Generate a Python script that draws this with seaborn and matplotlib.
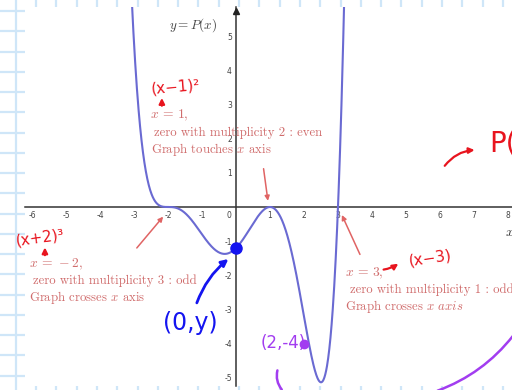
import numpy as np
import pandas as pd
import matplotlib
matplotlib.use("Agg")
import matplotlib.pyplot as plt
import seaborn as sns
from matplotlib.patches import FancyArrowPatch

# P(x) = a (x+2)^3 (x-1)^2 (x-3)
roots = [-2, 1, 3]
multiplicities = [3, 2, 1]
lead_coef = 0.05

x_tick_values = [-6, -5, -4, -3, -2, -1, 1, 2, 3, 4, 5, 6, 7, 8]
y_tick_values = [-5, -4, -3, -2, -1, 1, 2, 3, 4, 5]

marked_point = (2, -4)


def P(x):
    x = np.asarray(x, dtype=float)
    out = np.full_like(x, lead_coef)
    for r, m in zip(roots, multiplicities):
        out = out * (x - r) ** m
    return out


xs = np.linspace(-3.4, 3.4, 800)
curve = pd.DataFrame({"x": xs, "y": P(xs)})
y_intercept = (0.0, float(P(0.0)))

sns.set_theme(style="white")
plt.rcParams["mathtext.fontset"] = "cm"

fig = plt.figure(figsize=(5.12, 3.90), dpi=100)

# notebook paper behind the graph
bg = fig.add_axes([0, 0, 1, 1])
bg.set_xlim(0, 512)
bg.set_ylim(390, 0)
bg.axis("off")
paper = "#cfe6f8"
for k in range(20):
    yy = 11 + 20.25 * k
    bg.plot([0, 26], [yy, yy], color=paper, lw=1.6)
bg.plot([16, 16], [0, 390], color=paper, lw=1.6)
for k in range(24):
    xx = 36 + 20.3 * k
    bg.plot([xx, xx], [0, 7], color=paper, lw=1.6)
    bg.plot([xx, xx], [385, 390], color=paper, lw=1.6)

ax = fig.add_axes([25 / 512, 4 / 390, 487 / 512, 379 / 390])
ax.set_facecolor("white")
ax.set_xlim(-6.206, 8.118)
ax.set_ylim(-5.234, 5.848)

sns.lineplot(data=curve, x="x", y="y", ax=ax, color="#6a6ad2", lw=1.5, zorder=3)

# axes through the origin
for side in ["top", "right"]:
    ax.spines[side].set_visible(False)
ax.spines["left"].set_position(("data", 0))
ax.spines["bottom"].set_position(("data", 0))
for side in ["left", "bottom"]:
    ax.spines[side].set_color("#333333")
    ax.spines[side].set_linewidth(1.1)
ax.set_xticks(x_tick_values)
ax.set_yticks(y_tick_values)
ax.set_xticklabels([str(v) for v in x_tick_values])
ax.set_yticklabels([str(v) for v in y_tick_values])
ax.tick_params(axis="both", direction="inout", length=3, width=0.7, colors="#333333",
               labelsize=5.5, labelcolor="#444444", pad=1.5)
ax.set_xlabel("")
ax.set_ylabel("")
ax.text(-0.15, -0.12, "0", fontsize=5.5, color="#444444", ha="right", va="top")
ax.plot([0], [5.72], marker="^", ms=5, color="#222222", clip_on=False, zorder=4)
ax.text(7.92, -0.72, "$x$", fontsize=10, color="#333333", va="center", ha="left")
ax.text(-1.25, 5.32, "$y = P(x)$", fontsize=9.5, color="#444444", ha="center", va="center")

# printed notes on the zeros
note = "#d06c6c"
serif = dict(family="cmr10", fontsize=9.2, color=note, va="center", ha="left")
head = {**serif, "fontsize": 9.8}
ax.text(-2.53, 2.68, r"$x\,=\,1,$", **head)
ax.text(-2.40, 2.16, "zero with multiplicity 2 : even", **serif)
ax.text(-2.50, 1.67, "Graph touches $x$ axis", **serif)
ax.text(-6.09, -1.67, r"$x\,=\,-2,$", **head)
ax.text(-5.97, -2.16, "zero with multiplicity 3 : odd", **serif)
ax.text(-6.09, -2.66, "Graph crosses $x$ axis", **serif)
ax.text(3.20, -1.93, r"$x\,=\,3,$", **head)
ax.text(3.35, -2.42, "zero with multiplicity 1 : odd", **serif)
ax.text(3.20, -2.90, r"Graph crosses $x\ axis$", **serif)

arrow_kw = dict(arrowstyle="-|>", mutation_scale=7, color="#e06464", lw=1.1)
ax.add_patch(FancyArrowPatch((-2.97, -1.26), (-2.09, -0.22), **arrow_kw))
ax.add_patch(FancyArrowPatch((0.80, 1.20), (0.95, 0.10), **arrow_kw))
ax.add_patch(FancyArrowPatch((3.68, -1.46), (3.08, -0.16), **arrow_kw))

# handwritten remarks
red = "#e8141e"
hand = dict(color=red, fontsize=11, family="DejaVu Sans", va="center", ha="center")
ax.text(-1.76, 3.51, "(x−1)²", rotation=5, **hand)
ax.text(-5.76, -0.91, "(x+2)³", rotation=8, **hand)
ax.text(5.72, -1.49, "(x−3)", rotation=8, **hand)
ax.text(7.45, 1.87, "P(", color=red, fontsize=20, va="center", ha="left")
pen = dict(arrowstyle="-|>", mutation_scale=8, color=red, lw=1.6)
ax.add_patch(FancyArrowPatch((-2.18, 2.88), (-2.18, 3.27), **pen))
ax.add_patch(FancyArrowPatch((-5.62, -1.49), (-5.62, -1.10), **pen))
ax.add_patch(FancyArrowPatch((4.26, -1.84), (4.84, -1.61), connectionstyle="arc3,rad=0.15", **pen))
ax.add_patch(FancyArrowPatch((6.09, 1.14), (7.10, 1.67), connectionstyle="arc3,rad=-0.25", **pen))

blue = "#1414f0"
ax.plot([y_intercept[0]], [y_intercept[1]], "o", ms=8, color=blue, zorder=5)
ax.text(-1.35, -3.39, "(0,y)", color=blue, fontsize=17, va="center", ha="center")
ax.add_patch(FancyArrowPatch((-1.18, -2.88), (-0.16, -1.47), connectionstyle="arc3,rad=-0.15",
                             arrowstyle="-|>", mutation_scale=10, color=blue, lw=2))

purple = "#a23df0"
ax.plot([marked_point[0]], [marked_point[1]], "o", ms=6, color=purple, zorder=5)
ax.text(1.38, -3.98, "(2,-4)", color=purple, fontsize=12, va="center", ha="center")
ax.add_patch(FancyArrowPatch((1.24, -4.70), (1.40, -5.40), connectionstyle="arc3,rad=0.3",
                             arrowstyle="-", color=purple, lw=1.8, clip_on=False))
ax.add_patch(FancyArrowPatch((5.85, -5.40), (8.20, -3.70), connectionstyle="arc3,rad=0.15",
                             arrowstyle="-", color=purple, lw=1.8, clip_on=False))

fig.savefig("out.png", dpi=100)
